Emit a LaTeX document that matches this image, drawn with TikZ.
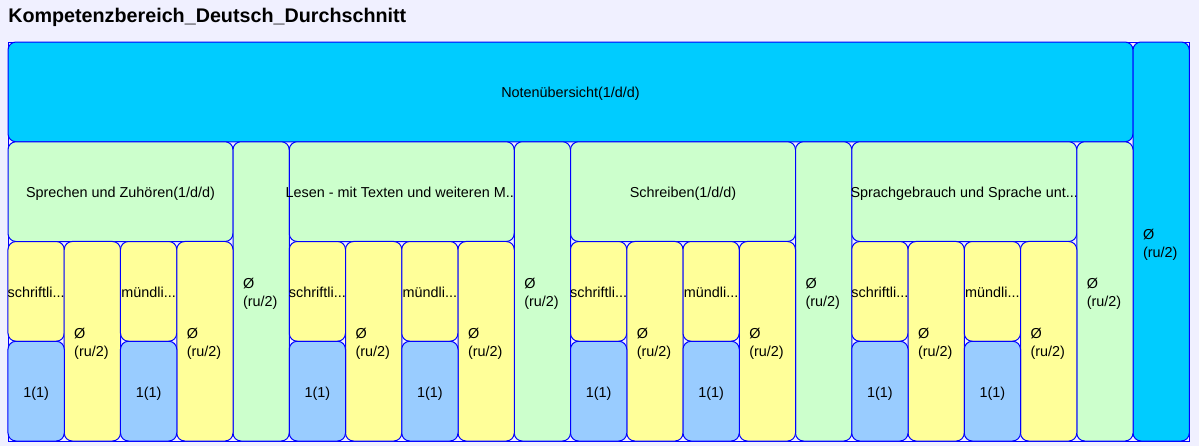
\documentclass[tikz,border=0pt]{standalone}
\usepackage{fontspec}
\setmainfont{Liberation Sans}
\definecolor{bgc}{HTML}{F0F0FF}
\definecolor{topc}{HTML}{00CCFF}
\definecolor{grnc}{HTML}{CCFFCC}
\definecolor{ylwc}{HTML}{FFFF99}
\definecolor{lbc}{HTML}{99CCFF}
\newcommand{\avgtext}{\rule{0pt}{12pt}Ø\\(ru/2)}
\begin{document}
\begin{tikzpicture}[x=0.75pt, y=-0.75pt,
    cell/.style = {draw=blue, line width=0.75pt, rounded corners=6pt, inner sep=0pt, font=\fontsize{10.8}{13.5}\selectfont},
    small/.style = {cell, minimum width=42.19pt, minimum height=74.81pt, text height=9pt, text depth=0pt},
    wide/.style = {small, minimum width=168.75pt, fill=grnc},
    tall/.style = {cell, fill=ylwc, minimum width=42.19pt, minimum height=149.63pt, align=left, text width=27.19pt, inner xsep=7.5pt},
    col/.style = {tall, fill=grnc, minimum height=224.44pt}]
    % background and frame
    \fill[bgc] (0,0) rectangle (1199,446);
    \draw[blue, line width=0.75pt] (8,42) rectangle (1189,441);
    \node[anchor=base west, inner sep=0pt, font=\fontsize{14.8}{17}\selectfont\bfseries] (title) at (8,22) {Kompetenzbereich\_Deutsch\_Durchschnitt};
    % top row
    \node[small, fill=topc, minimum width=843.75pt] (noten) at (570.5,91.875) {Notenübersicht(1/d/d)};
    \node[tall, fill=topc, minimum height=299.25pt] (avgall) at (1161.125,241.5) {\avgtext};
    % Sprechen und Zuhoeren
    \node[wide] (sprechen) at (120.5,191.625) {\makebox[0pt]{Sprechen und Zuhören(1/d/d)}};
    \node[col] (avg1) at (261.125,291.375) {\avgtext};
    \node[small, fill=ylwc] (schrift1) at (36.125,291.375) {\makebox[0pt]{schriftli...}};
    \node[tall] (avgs1) at (92.375,341.25) {\avgtext};
    \node[small, fill=ylwc] (muend1) at (148.625,291.375) {\makebox[0pt]{mündli...}};
    \node[tall] (avgm1) at (204.875,341.25) {\avgtext};
    \node[small, fill=lbc] (nots1) at (36.125,391.125) {1(1)};
    \node[small, fill=lbc] (notm1) at (148.625,391.125) {1(1)};
    % Lesen
    \node[wide] (lesen) at (401.75,191.625) {\makebox[0pt]{Lesen - mit Texten und weiteren M...}};
    \node[col] (avg2) at (542.375,291.375) {\avgtext};
    \node[small, fill=ylwc] (schrift2) at (317.375,291.375) {\makebox[0pt]{schriftli...}};
    \node[tall] (avgs2) at (373.625,341.25) {\avgtext};
    \node[small, fill=ylwc] (muend2) at (429.875,291.375) {\makebox[0pt]{mündli...}};
    \node[tall] (avgm2) at (486.125,341.25) {\avgtext};
    \node[small, fill=lbc] (nots2) at (317.375,391.125) {1(1)};
    \node[small, fill=lbc] (notm2) at (429.875,391.125) {1(1)};
    % Schreiben
    \node[wide] (schreiben) at (683,191.625) {\makebox[0pt]{Schreiben(1/d/d)}};
    \node[col] (avg3) at (823.625,291.375) {\avgtext};
    \node[small, fill=ylwc] (schrift3) at (598.625,291.375) {\makebox[0pt]{schriftli...}};
    \node[tall] (avgs3) at (654.875,341.25) {\avgtext};
    \node[small, fill=ylwc] (muend3) at (711.125,291.375) {\makebox[0pt]{mündli...}};
    \node[tall] (avgm3) at (767.375,341.25) {\avgtext};
    \node[small, fill=lbc] (nots3) at (598.625,391.125) {1(1)};
    \node[small, fill=lbc] (notm3) at (711.125,391.125) {1(1)};
    % Sprachgebrauch
    \node[wide] (sprache) at (964.25,191.625) {\makebox[0pt]{Sprachgebrauch und Sprache unt...}};
    \node[col] (avg4) at (1104.875,291.375) {\avgtext};
    \node[small, fill=ylwc] (schrift4) at (879.875,291.375) {\makebox[0pt]{schriftli...}};
    \node[tall] (avgs4) at (936.125,341.25) {\avgtext};
    \node[small, fill=ylwc] (muend4) at (992.375,291.375) {\makebox[0pt]{mündli...}};
    \node[tall] (avgm4) at (1048.625,341.25) {\avgtext};
    \node[small, fill=lbc] (nots4) at (879.875,391.125) {1(1)};
    \node[small, fill=lbc] (notm4) at (992.375,391.125) {1(1)};
\end{tikzpicture}
\end{document}
